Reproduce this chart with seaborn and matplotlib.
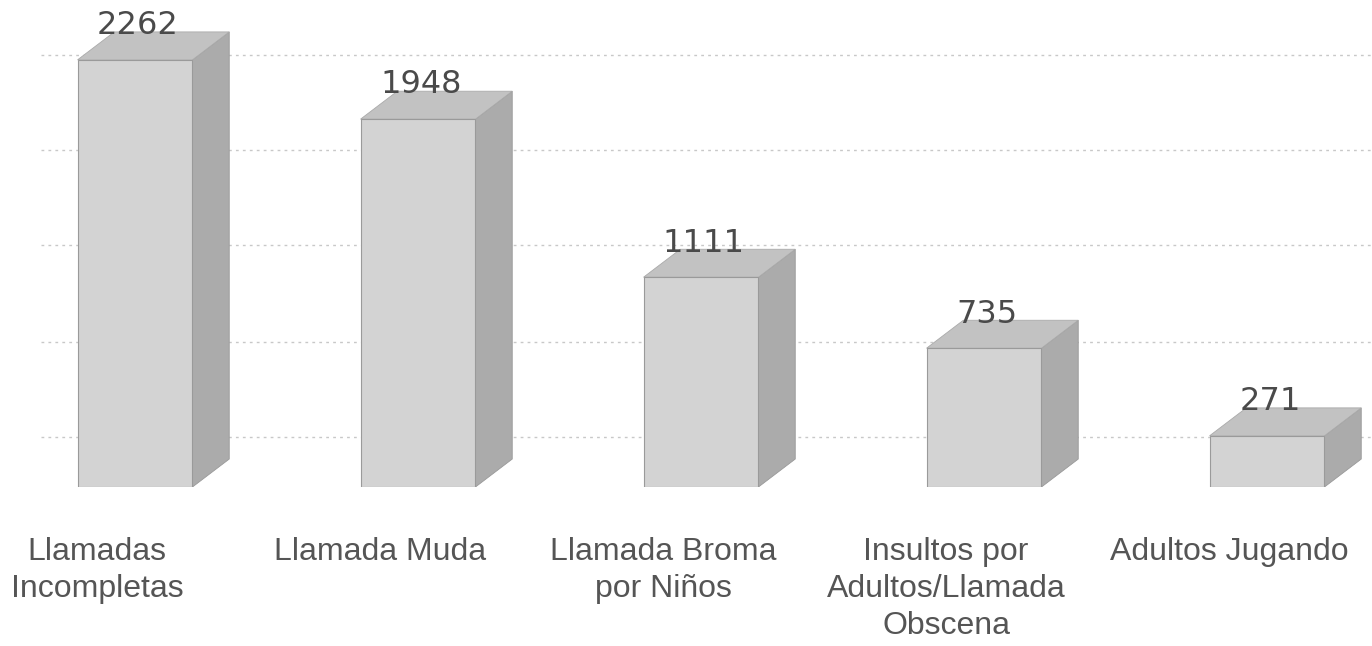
import matplotlib
matplotlib.use("Agg")
import matplotlib.pyplot as plt
import matplotlib.transforms as mtransforms
from matplotlib.patches import Polygon
import seaborn as sns
import pandas as pd

# data
categorias = ["Llamadas\nIncompletas", "Llamada Muda", "Llamada Broma\npor Niños",
              "Insultos por\nAdultos/Llamada\nObscena", "Adultos Jugando"]
valores = [2262, 1948, 1111, 735, 271]
niveles_grid = [265, 768, 1280, 1785, 2288]

df = pd.DataFrame({"cat": categorias, "val": valores})

sns.set_style("white")
plt.rcParams["font.family"] = ["Liberation Sans", "DejaVu Sans"]

fig = plt.figure(figsize=(13.72, 6.46), dpi=100)
ax = fig.add_axes([0, 159 / 646, 1, 487 / 646])

front = "#d3d3d3"
side = "#ababab"
top = "#c2c2c2"

sns.barplot(data=df, x="cat", y="val", color=front, width=0.406,
            saturation=1, edgecolor="#9a9a9a", linewidth=0.8, ax=ax, zorder=3)

ax.set_xlim(-0.477, 4.371)
ax.set_ylim(0, 2579)

# fake 3D depth
dx, dz = 0.13, 148
for p, v in zip(ax.patches, valores):
    x0, w, h = p.get_x(), p.get_width(), p.get_height()
    lado = Polygon([(x0 + w, 0), (x0 + w + dx, dz), (x0 + w + dx, h + dz), (x0 + w, h)],
                   closed=True, facecolor=side, edgecolor="#999999", lw=0.6, zorder=2)
    tapa = Polygon([(x0, h), (x0 + dx, h + dz), (x0 + w + dx, h + dz), (x0 + w, h)],
                   closed=True, facecolor=top, edgecolor="#aaaaaa", lw=0.6, zorder=2)
    ax.add_patch(lado)
    ax.add_patch(tapa)
    ax.text(x0 + w / 2 + 0.01, h + dz - 12, str(v), ha="center", va="baseline",
            fontsize=23, color="#4a4a4a", family="DejaVu Sans", zorder=4)

# dotted gridlines on the back wall
for g in niveles_grid:
    ax.axhline(g, xmin=0.03, xmax=1, color="#c8c8c8", lw=1, ls=(0, (2, 3)), zorder=1)

ax.set_yticks([])
ax.set_xlabel("")
ax.set_ylabel("")
ax.tick_params(axis="x", length=0, pad=36, labelsize=23, labelcolor="#555555")
off = mtransforms.ScaledTranslation(-38 / 100, 0, fig.dpi_scale_trans)
for lbl in ax.get_xticklabels():
    lbl.set_transform(lbl.get_transform() + off)
    lbl.set_linespacing(1.3)
sns.despine(ax=ax, left=True, bottom=True)

fig.savefig("out.png", dpi=100)
